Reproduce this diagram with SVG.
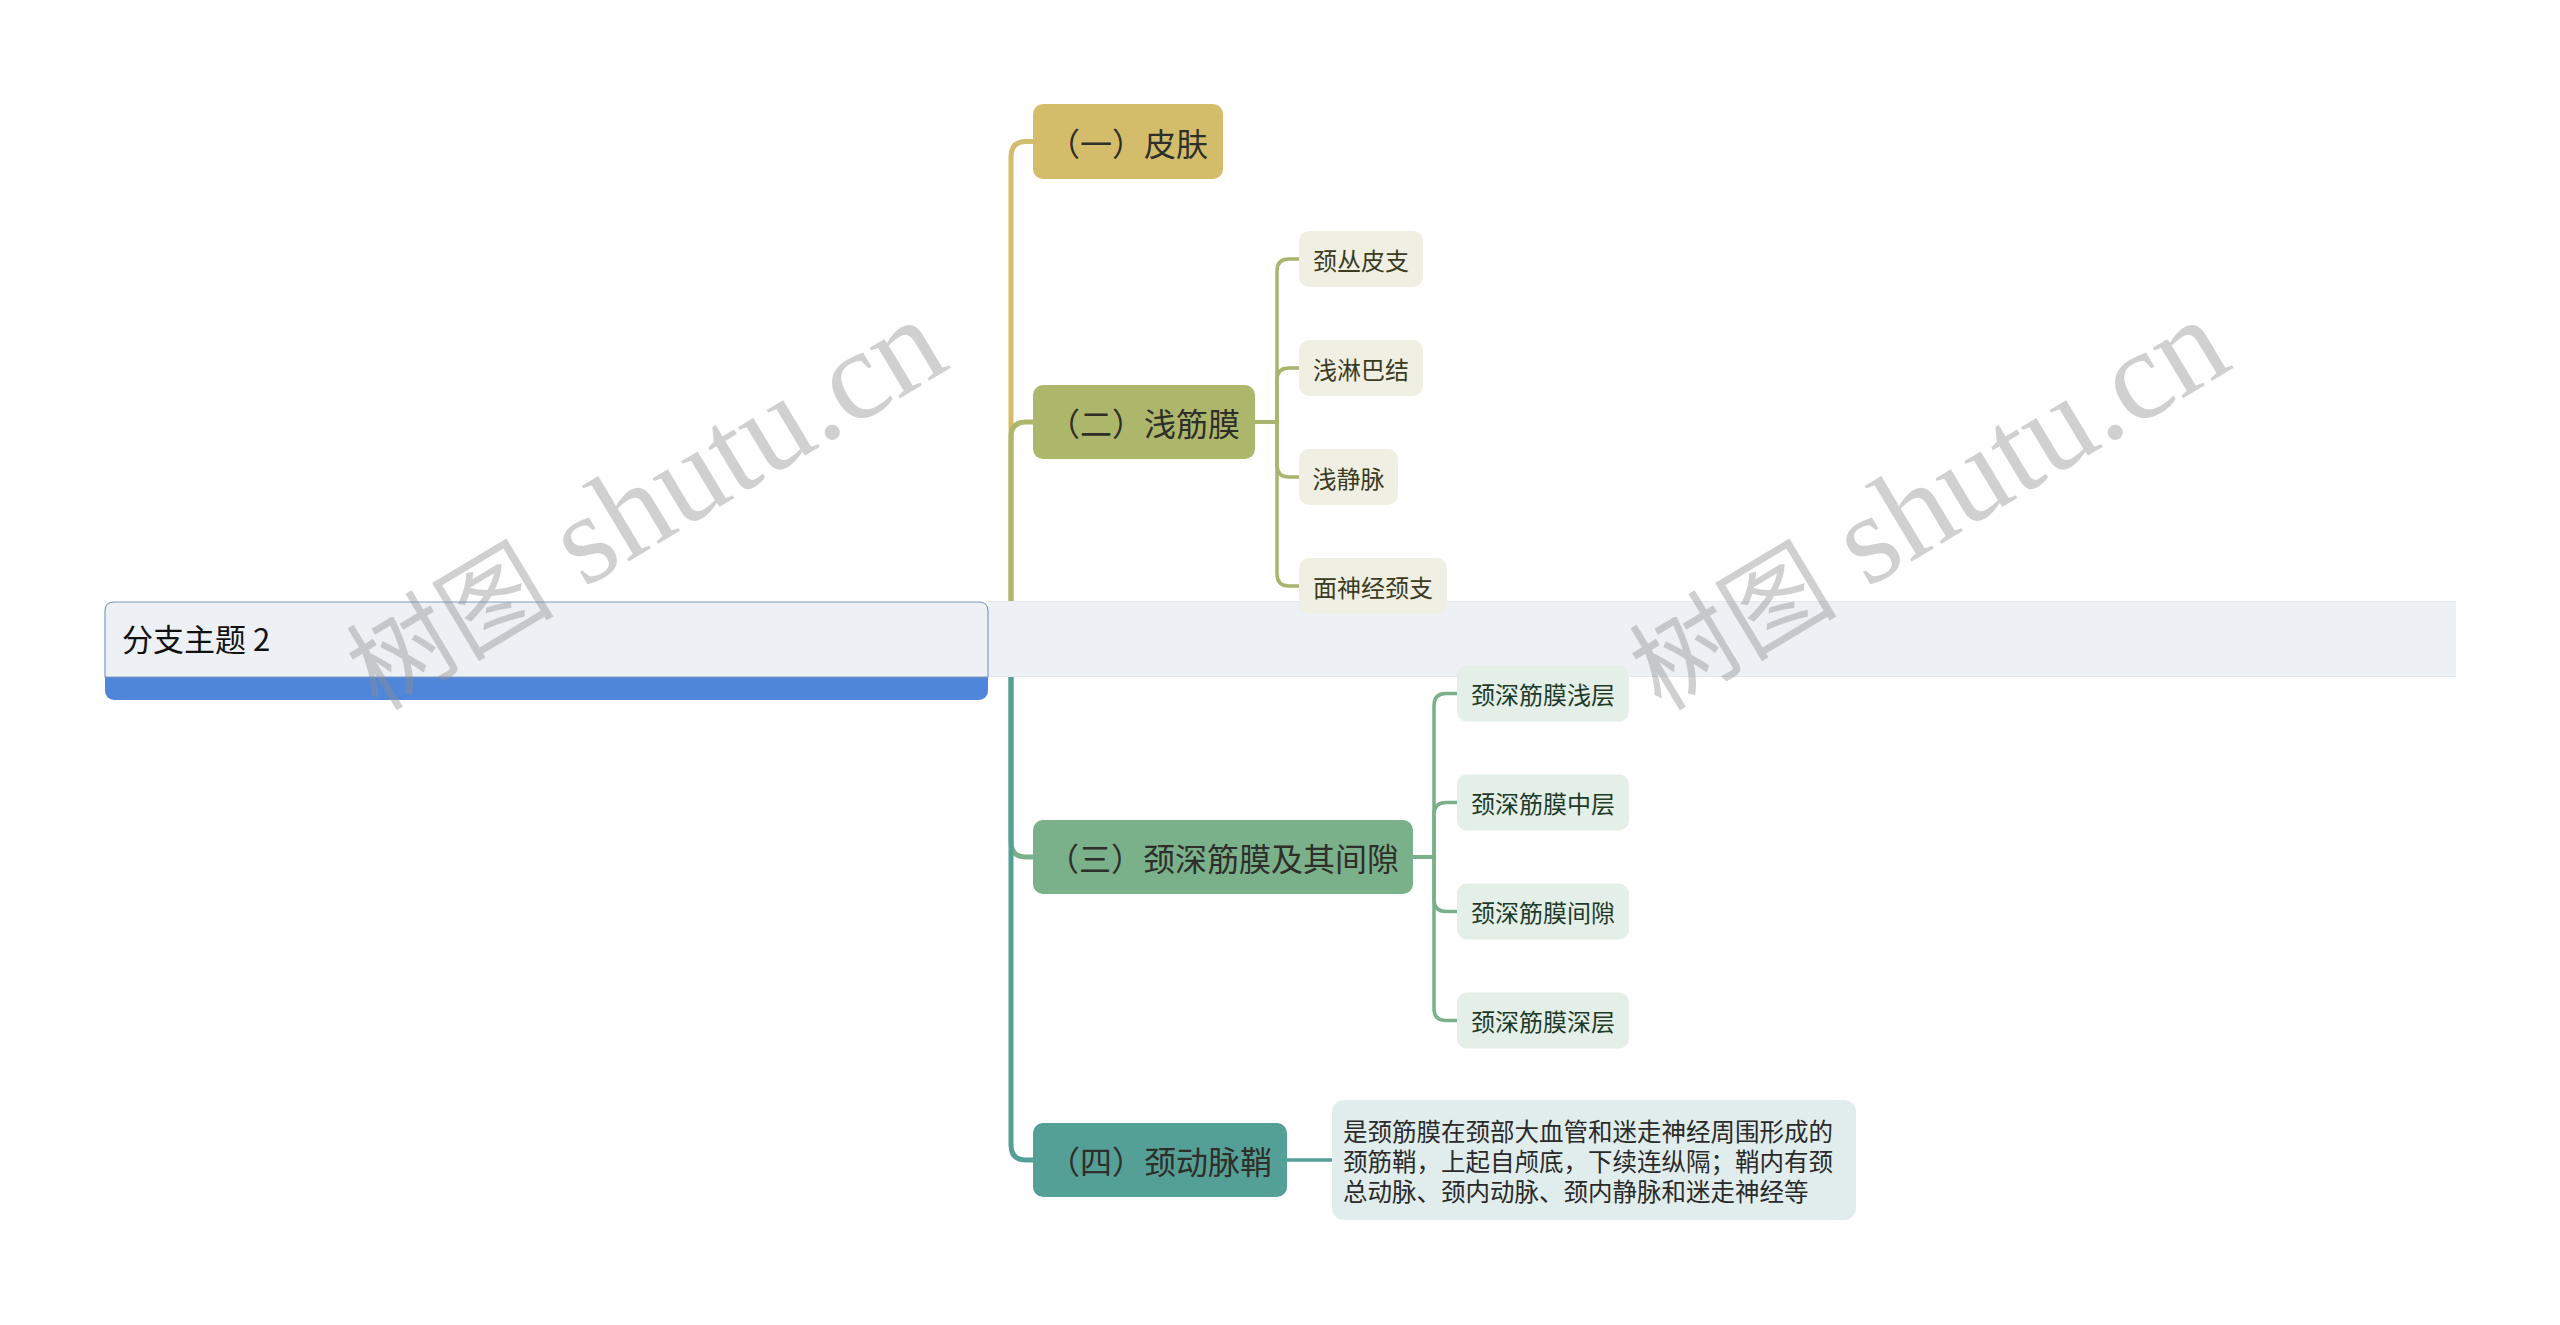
<svg xmlns="http://www.w3.org/2000/svg" width="2560" height="1325" viewBox="0 0 2560 1325">
<style>
.main{font-family:"Noto Sans CJK SC","Noto Sans",sans-serif;font-size:32px;fill:#2e2e2a;dominant-baseline:central;text-anchor:middle}
.sub{font-family:"Noto Sans CJK SC","Noto Sans",sans-serif;font-size:24px;dominant-baseline:central;text-anchor:middle}
.desc{font-family:"Noto Sans CJK SC","Noto Sans",sans-serif;font-size:24.5px;fill:#2a2a2a;dominant-baseline:central}
.root{font-family:"Noto Sans CJK SC","Noto Sans",sans-serif;font-size:31px;fill:#111}
.wm{font-family:"Liberation Serif","Noto Sans CJK SC",serif;font-size:128px;fill:#8f8f8f;fill-opacity:0.42}
.wmc{font-size:104px}
.ln{fill:none;stroke-linecap:round}
</style>
<rect width="2560" height="1325" fill="#ffffff"/>
<g id="connectors">
  <path class="ln" d="M1011 640 V157 Q1011 141.5 1026 141.5 H1036" stroke="#d4bd6a" stroke-width="5"/>
  <path class="ln" d="M1011 640 V437 Q1011 422 1026 422 H1036" stroke="#adb76c" stroke-width="5"/>
  <path class="ln" d="M1011 640 V842 Q1011 857 1026 857 H1036" stroke="#7ab08a" stroke-width="5"/>
  <path class="ln" d="M1011 640 V1145 Q1011 1160 1026 1160 H1036" stroke="#55a096" stroke-width="5"/>
  <g stroke="#a9b46c" stroke-width="3.5" fill="none">
    <path d="M1255 422 H1277 V271 Q1277 259 1289 259 H1301"/>
    <path d="M1255 422 H1277 V380 Q1277 368 1289 368 H1301"/>
    <path d="M1255 422 H1277 V465 Q1277 477 1289 477 H1301"/>
    <path d="M1255 422 H1277 V574 Q1277 586 1289 586 H1301"/>
  </g>
  <g stroke="#7ab08a" stroke-width="3.5" fill="none">
    <path d="M1413 857 H1434 V705.5 Q1434 693.5 1446 693.5 H1459"/>
    <path d="M1413 857 H1434 V814.5 Q1434 802.5 1446 802.5 H1459"/>
    <path d="M1413 857 H1434 V899.5 Q1434 911.5 1446 911.5 H1459"/>
    <path d="M1413 857 H1434 V1008.5 Q1434 1020.5 1446 1020.5 H1459"/>
  </g>
  <path d="M1287 1160 H1334" stroke="#55a096" stroke-width="3.5" fill="none"/>
</g>
<g id="band">
  <rect x="988" y="601" width="1468" height="76" fill="#edf1f5"/>
  <line x1="988" y1="601.5" x2="2456" y2="601.5" stroke="#e2e8ee" stroke-width="1"/>
  <line x1="988" y1="676.5" x2="2456" y2="676.5" stroke="#e2e8ee" stroke-width="1"/>
</g>
<g id="root">
  <rect x="105" y="602" width="883" height="98" rx="9" fill="#4f86d9"/>
  <path d="M105 677 V611 Q105 602 114 602 H979 Q988 602 988 611 V677 Z" fill="#edf1f5" stroke="#7f9cc4" stroke-width="1.2"/>
  <text class="root" x="122" y="651">分支主题 2</text>
</g>
<g id="n1">
  <rect x="1033" y="104" width="190" height="75" rx="10" fill="#d4bd6a"/>
  <text class="main" x="1128" y="141.5">（一）皮肤</text>
</g>
<g id="n2">
  <rect x="1033" y="385" width="222" height="74" rx="10" fill="#adb76c"/>
  <text class="main" x="1144" y="422">（二）浅筋膜</text>
</g>
<g id="n2a">
  <rect x="1299" y="231" width="124" height="56" rx="10" fill="#eff0e3"/>
  <text class="sub" x="1361" y="259" fill="#3b3b22">颈丛皮支</text>
</g>
<g id="n2b">
  <rect x="1299" y="340" width="124" height="56" rx="10" fill="#eff0e3"/>
  <text class="sub" x="1361" y="368" fill="#3b3b22">浅淋巴结</text>
</g>
<g id="n2c">
  <rect x="1299" y="449" width="99" height="56" rx="10" fill="#eff0e3"/>
  <text class="sub" x="1348.5" y="477" fill="#3b3b22">浅静脉</text>
</g>
<g id="n2d">
  <rect x="1299" y="558" width="148" height="56" rx="10" fill="#eff0e3"/>
  <text class="sub" x="1373" y="586" fill="#3b3b22">面神经颈支</text>
</g>
<g id="n3">
  <rect x="1033" y="820" width="380" height="74" rx="10" fill="#7ab08a"/>
  <text class="main" x="1223" y="857">（三）颈深筋膜及其间隙</text>
</g>
<g id="n3a">
  <rect x="1457" y="665.5" width="172" height="56" rx="10" fill="#e3efe7"/>
  <text class="sub" x="1543" y="693.5" fill="#1f3a28">颈深筋膜浅层</text>
</g>
<g id="n3b">
  <rect x="1457" y="774.5" width="172" height="56" rx="10" fill="#e3efe7"/>
  <text class="sub" x="1543" y="802.5" fill="#1f3a28">颈深筋膜中层</text>
</g>
<g id="n3c">
  <rect x="1457" y="883.5" width="172" height="56" rx="10" fill="#e3efe7"/>
  <text class="sub" x="1543" y="911.5" fill="#1f3a28">颈深筋膜间隙</text>
</g>
<g id="n3d">
  <rect x="1457" y="992.5" width="172" height="56" rx="10" fill="#e3efe7"/>
  <text class="sub" x="1543" y="1020.5" fill="#1f3a28">颈深筋膜深层</text>
</g>
<g id="n4">
  <rect x="1033" y="1123" width="254" height="74" rx="10" fill="#55a096"/>
  <text class="main" x="1160" y="1160">（四）颈动脉鞘</text>
</g>
<g id="n4a">
  <rect x="1332" y="1100" width="524" height="120" rx="12" fill="#e0edec"/>
  <text class="desc" x="1343" y="1130">是颈筋膜在颈部大血管和迷走神经周围形成的</text>
  <text class="desc" x="1343" y="1160">颈筋鞘，上起自颅底，下续连纵隔；鞘内有颈</text>
  <text class="desc" x="1343" y="1190">总动脉、颈内动脉、颈内静脉和迷走神经等</text>
</g>
<g id="watermarks">
  <text class="wm" x="378" y="712" transform="rotate(-31 378 712)"><tspan class="wmc">树图</tspan> shutu.cn</text>
  <text class="wm" x="1661" y="712" transform="rotate(-31 1661 712)"><tspan class="wmc">树图</tspan> shutu.cn</text>
</g>
</svg>
